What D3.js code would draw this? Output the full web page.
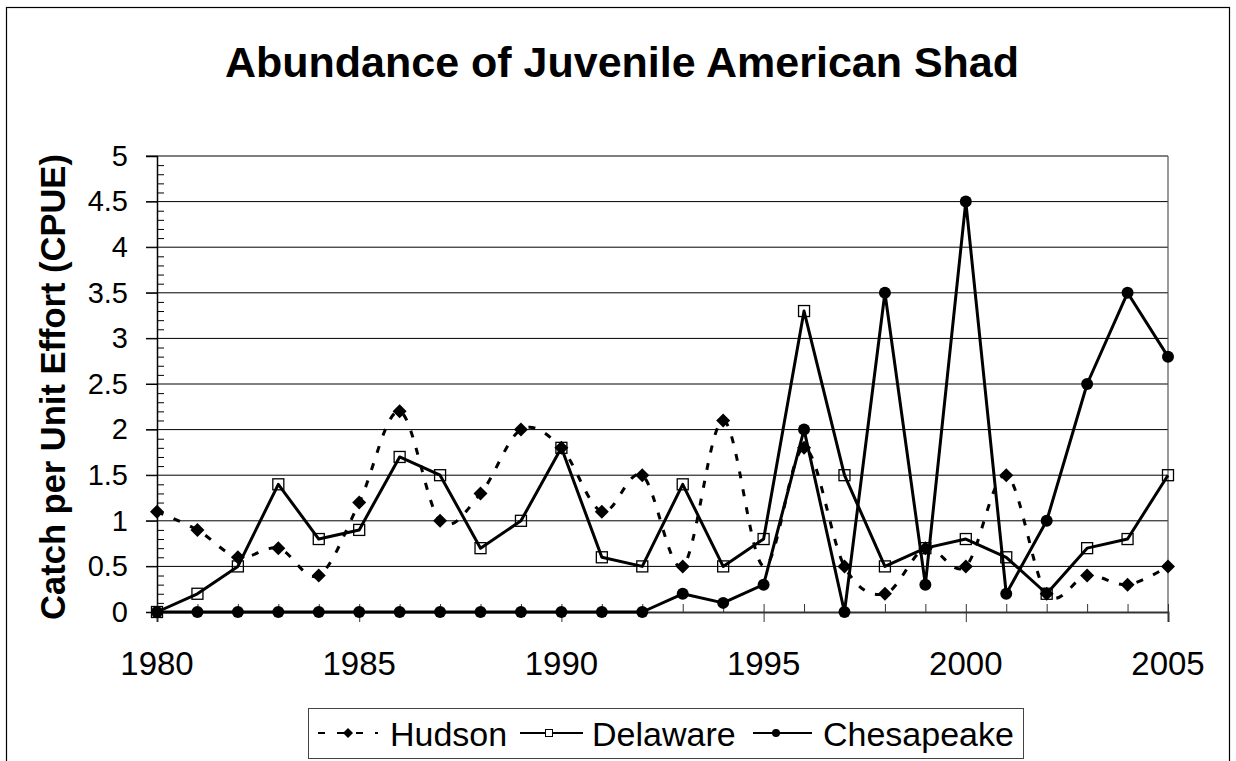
<!DOCTYPE html>
<html>
<head>
<meta charset="utf-8">
<script src="https://cdn.jsdelivr.net/npm/d3@7"></script>
<style>
  html, body { margin: 0; padding: 0; background: #fff; }
  svg { display: block; font-family: "Liberation Sans", Arial, sans-serif; }
</style>
</head>
<body>
<svg id="chart" width="1236" height="761"></svg>
<script>
// ---- data ----
const years = [1980,1981,1982,1983,1984,1985,1986,1987,1988,1989,1990,1991,1992,1993,1994,1995,1996,1997,1998,1999,2000,2001,2002,2003,2004,2005];
const hudson     = [1.1,0.9,0.6,0.7,0.4,1.2,2.2,1.0,1.3,2.0,1.8,1.1,1.5,0.5,2.1,0.5,1.8,0.5,0.2,0.7,0.5,1.5,0.2,0.4,0.3,0.5];
const delaware   = [0,0.2,0.5,1.4,0.8,0.9,1.7,1.5,0.7,1.0,1.8,0.6,0.5,1.4,0.5,0.8,3.3,1.5,0.5,0.7,0.8,0.6,0.2,0.7,0.8,1.5];
const chesapeake = [0,0,0,0,0,0,0,0,0,0,0,0,0,0.2,0.1,0.3,2.0,0,3.5,0.3,4.5,0.2,1.0,2.5,3.5,2.8];
const hudsonNoMarkerYears = [1995];
const seriesNames = ["Hudson","Delaware","Chesapeake"];
const xTickLabels = [1980,1985,1990,1995,2000,2005];
const yTickLabels = [0,0.5,1,1.5,2,2.5,3,3.5,4,4.5,5];
const titleText = "Abundance of Juvenile American Shad";
const yTitleText = "Catch per Unit Effort (CPUE)";

// ---- layout ----
const svg = d3.select("#chart");
const x = d3.scaleLinear().domain([1980, 2005]).range([157, 1168]);
const y = d3.scaleLinear().domain([0, 5]).range([612, 156]);

// outer frame
svg.append("rect").attr("x", 6.5).attr("y", 7.5).attr("width", 1223).attr("height", 820)
  .attr("fill", "#fff").attr("stroke", "#000").attr("stroke-width", 1.2);

// title
svg.append("text").attr("x", 622).attr("y", 77).attr("text-anchor", "middle")
  .attr("font-size", 43).attr("font-weight", "bold").text(titleText);

// y title
svg.append("text").attr("transform", "translate(65,387) rotate(-90)")
  .attr("text-anchor", "middle").attr("font-size", 34.5).attr("font-weight", "bold").text(yTitleText);

// gridlines
const gridVals = yTickLabels.filter(v => v > 0);
svg.append("g").selectAll("line").data(gridVals).join("line")
  .attr("x1", 146).attr("x2", x(2005)).attr("y1", d => y(d)).attr("y2", d => y(d))
  .attr("stroke", "#000").attr("stroke-width", 1);

// plot right border
svg.append("line").attr("x1", x(2005)).attr("x2", x(2005)).attr("y1", y(5)).attr("y2", y(0))
  .attr("stroke", "#555").attr("stroke-width", 1.2);

// y axis: major ticks outward with labels
const yAxis = d3.axisLeft(y).tickValues(yTickLabels).tickSize(11).tickPadding(18)
  .tickFormat(d => String(d));
const gy = svg.append("g").attr("transform", `translate(${x(1980)},0)`).call(yAxis);
gy.select(".domain").attr("stroke", "#000").attr("stroke-width", 1.5);
gy.selectAll(".tick line").attr("stroke", "#000");
gy.selectAll(".tick text").attr("font-size", 29).attr("font-family", "Liberation Sans, Arial, sans-serif").attr("fill", "#000");

// y minor ticks inward
const yMinor = d3.range(0, 51).map(i => i / 10).filter(v => Math.round(v * 10) % 5 !== 0);
svg.append("g").attr("transform", `translate(${x(1980)},0)`)
  .call(d3.axisRight(y).tickValues(yMinor).tickSize(7).tickFormat(""))
  .call(g => g.select(".domain").remove())
  .selectAll(".tick line").attr("stroke", "#000");

// x axis
const gx = svg.append("g").attr("transform", `translate(0,${y(0)})`)
  .call(d3.axisBottom(x).tickValues(xTickLabels).tickSize(10).tickFormat(""));
gx.select(".domain").attr("stroke", "#333").attr("stroke-width", 2);
gx.selectAll(".tick line").attr("stroke", "#333").attr("y1", -8);
const gxm = svg.append("g").attr("transform", `translate(0,${y(0)})`)
  .call(d3.axisTop(x).tickValues(years.filter(v => v % 5 !== 0)).tickSize(8).tickFormat(""));
gxm.select(".domain").remove();
gxm.selectAll(".tick line").attr("stroke", "#333");
svg.append("g").selectAll("text").data(xTickLabels).join("text")
  .attr("x", d => x(d)).attr("y", 675).attr("text-anchor", "middle")
  .attr("font-size", 33).text(d => d);

// ---- series ----
const hudsonData = years.map((yr, i) => ({ yr, v: hudson[i] }));
const delawareData = years.map((yr, i) => ({ yr, v: delaware[i] }));
const chesData = years.map((yr, i) => ({ yr, v: chesapeake[i] }));

const smooth = d3.line().x(d => x(d.yr)).y(d => y(d.v)).curve(d3.curveCardinal.tension(0));
const straight = d3.line().x(d => x(d.yr)).y(d => y(d.v));

const diamond = s => `M0,${-s} L${s},0 L0,${s} L${-s},0 Z`;

// Hudson
svg.append("path").attr("d", smooth(hudsonData)).attr("fill", "none")
  .attr("stroke", "#000").attr("stroke-width", 3).attr("stroke-dasharray", "7,11");
svg.append("g").selectAll("path").data(hudsonData.filter(d => !hudsonNoMarkerYears.includes(d.yr))).join("path")
  .attr("transform", d => `translate(${x(d.yr)},${y(d.v)})`).attr("d", diamond(7)).attr("fill", "#000");

// Delaware
svg.append("path").attr("d", straight(delawareData)).attr("fill", "none")
  .attr("stroke", "#000").attr("stroke-width", 3).attr("stroke-linejoin", "round");
svg.append("g").selectAll("rect").data(delawareData).join("rect")
  .attr("x", d => x(d.yr) - 5.5).attr("y", d => y(d.v) - 5.5).attr("width", 11).attr("height", 11)
  .attr("fill", "none").attr("stroke", "#000").attr("stroke-width", 1.3);

// Chesapeake
svg.append("path").attr("d", straight(chesData)).attr("fill", "none")
  .attr("stroke", "#000").attr("stroke-width", 3).attr("stroke-linejoin", "round");
svg.append("g").selectAll("circle").data(chesData).join("circle")
  .attr("cx", d => x(d.yr)).attr("cy", d => y(d.v)).attr("r", 6).attr("fill", "#000");

// ---- legend ----
const lg = svg.append("g");
lg.append("rect").attr("x", 308.5).attr("y", 708.5).attr("width", 715).attr("height", 50)
  .attr("fill", "#fff").attr("stroke", "#444").attr("stroke-width", 1);
const ly = 733;
const legendItems = [
  { name: seriesNames[0], x1: 318, x2: 378, mx: 348, textX: 390, dash: "7,12" },
  { name: seriesNames[1], x1: 520, x2: 583, mx: 549, textX: 592, dash: null },
  { name: seriesNames[2], x1: 753, x2: 812, mx: 776, textX: 823, dash: null }
];
legendItems.forEach((it, i) => {
  const ln = lg.append("line").attr("x1", it.x1).attr("x2", it.x2).attr("y1", ly).attr("y2", ly)
    .attr("stroke", "#000").attr("stroke-width", 2);
  if (it.dash) ln.attr("stroke-dasharray", it.dash);
  if (i === 0) lg.append("path").attr("transform", `translate(${it.mx},${ly})`).attr("d", diamond(5)).attr("fill", "#000");
  if (i === 1) lg.append("rect").attr("x", it.mx - 3.5).attr("y", ly - 3.5).attr("width", 7).attr("height", 7)
    .attr("fill", "#fff").attr("stroke", "#000").attr("stroke-width", 1);
  if (i === 2) lg.append("circle").attr("cx", it.mx).attr("cy", ly).attr("r", 4).attr("fill", "#000");
  lg.append("text").attr("x", it.textX).attr("y", 746).attr("font-size", 34).text(it.name);
});
</script>
</body>
</html>
